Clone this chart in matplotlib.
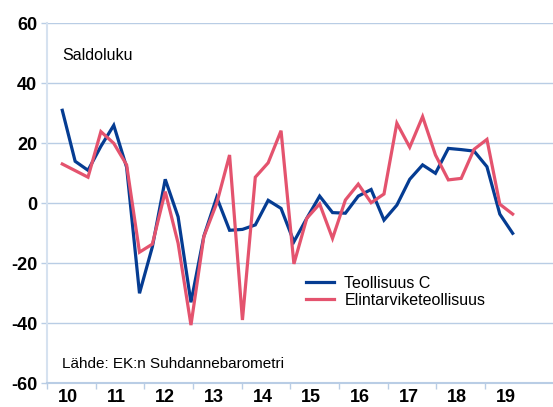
import matplotlib
matplotlib.use("Agg")
import matplotlib.pyplot as plt
import numpy as np

plt.rcParams['font.family'] = ['Liberation Sans', 'DejaVu Sans']

# Saldoluku, quarterly survey points (spring 2010 .. summer 2019)
teollisuus_c = [31, 14, 11, 19, 26, 12, -30, -14.5, 8, -4.5, -33, -11,
                2, -9, -8.7, -7.2, 1, -1.7, -12.8, -5, 2.4, -3.1, -3.3, 2.4,
                4.6, -5.6, -0.6, 8, 12.8, 10, 18.3, 17.9, 17.4, 12.2, -3.6, -10]
elintarvike = [13.1, 10.9, 8.7, 23.9, 20, 12.8, -16.3, -13.6, 3.9, -13.3, -40.6, -11.1,
               0, 16.1, -38.9, 8.7, 13.5, 24.2, -20.2, -5, -0.2, -11.7, 1.1, 6.4,
               0.2, 3.1, 26.7, 18.7, 28.9, 16.1, 7.8, 8.3, 18, 21.3, -0.3, -3.6]
year_labels = ["10", "11", "12", "13", "14", "15", "16", "17", "18", "19"]
y_ticks = [-60, -40, -20, 0, 20, 40, 60]

grid_col = "#b9cde5"
blue = "#053c92"
red = "#e4536e"

fig = plt.figure(figsize=(5.53, 4.07), dpi=100)
ax = fig.add_axes([47 / 553, 23.7 / 407, 506 / 553, 360 / 407])

# x in years; survey points sit about a quarter-step apart
x = 2010.314 + 0.2644 * np.arange(len(teollisuus_c))

ax.plot(x, teollisuus_c, color=blue, lw=2.3, label="Teollisuus C", solid_joinstyle="miter")
ax.plot(x, elintarvike, color=red, lw=2.3, label="Elintarviketeollisuus", solid_joinstyle="miter")

ax.set_xlim(2010, 2010 + 506 / 48.67)
ax.set_ylim(-60, 60)
ax.set_yticks(y_ticks)
ax.set_yticklabels([str(v) for v in y_ticks], fontsize=13, fontweight="bold")
for v in y_ticks[1:]:
    ax.axhline(v, color=grid_col, lw=1, zorder=0)

years = 2010 + np.arange(len(year_labels))
ax.set_xticks(years, minor=True)
ax.set_xticks(2010.43 + np.arange(len(year_labels)))
ax.set_xticklabels(year_labels, fontsize=13, fontweight="bold")
ax.tick_params(axis="x", which="major", length=0, pad=4)
ax.tick_params(axis="x", which="minor", length=4, color=grid_col, width=1)
ax.tick_params(axis="y", length=4, color=grid_col, width=1, pad=3)

for s in ["top", "right"]:
    ax.spines[s].set_visible(False)
ax.spines["left"].set_color("#d6e2f0")
ax.spines["left"].set_linewidth(1.5)
ax.spines["bottom"].set_color(grid_col)
ax.spines["bottom"].set_linewidth(1.5)

fig.text(62 / 553, 1 - 56 / 407, "Saldoluku", fontsize=11.5, va="center")
fig.text(62 / 553, 1 - 364 / 407, "Lähde: EK:n Suhdannebarometri", fontsize=11, va="center")

ax.legend(loc="upper left", bbox_to_anchor=(306 / 553, 1 - 276 / 407),
          bbox_transform=fig.transFigure, frameon=False, fontsize=11.5,
          handlelength=1.75, handletextpad=0.65, labelspacing=0.1,
          borderpad=0, borderaxespad=0)

fig.savefig("out.png", dpi=100)
